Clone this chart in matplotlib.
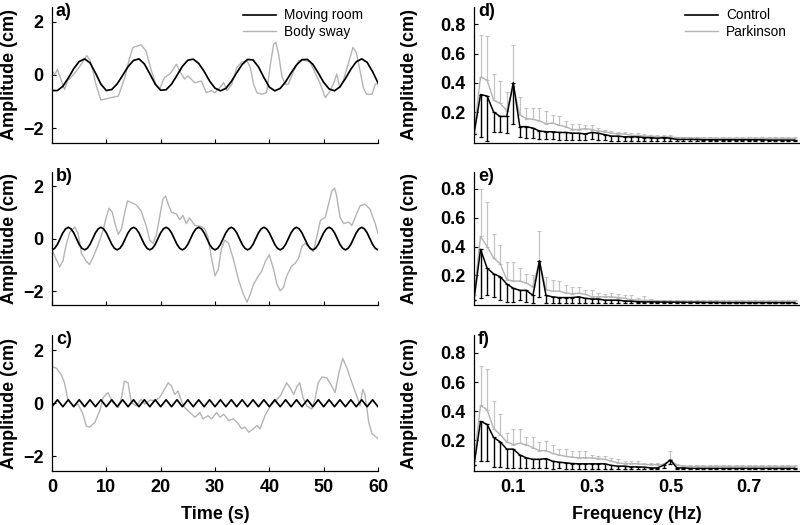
"""
Moving room vs body sway (time domain) and amplitude spectra (Control vs Parkinson).
"""
import numpy as np
import matplotlib
matplotlib.use('Agg')
import matplotlib.pyplot as plt
from matplotlib.lines import Line2D

plt.rcParams['font.family'] = ['Liberation Sans', 'DejaVu Sans']

GRAY = '#b4b4b4'
GRAY_BAR = '#c4c4c4'

# ---------------- time domain: moving room (black) ----------------
time_a = np.arange(0, 61, 1.0)
room_a = [-0.59, -0.59, -0.43, -0.12, 0.23, 0.50, 0.60, 0.45, 0.07, -0.35,
          -0.59, -0.55, -0.34, -0.02, 0.31, 0.54, 0.60, 0.41, 0.04, -0.35,
          -0.58, -0.56, -0.35, -0.02, 0.32, 0.55, 0.59, 0.43, 0.13, -0.23,
          -0.50, -0.60, -0.51, -0.25, 0.08, 0.39, 0.58, 0.56, 0.30, -0.10,
          -0.46, -0.60, -0.51, -0.26, 0.07, 0.37, 0.57, 0.58, 0.40, 0.07,
          -0.28, -0.53, -0.60, -0.45, -0.14, 0.21, 0.49, 0.60, 0.47, 0.12,
          -0.30]

time_b = np.arange(0, 60.5, 0.5)
room_b = [-0.43, -0.37, -0.22, 0, 0.22, 0.37, 0.43, 0.37, 0.22, 0, -0.22, -0.37,
          -0.43, -0.37, -0.22, 0, 0.22, 0.37, 0.43, 0.37, 0.22, 0, -0.22, -0.37,
          -0.43, -0.37, -0.22, 0, 0.22, 0.37, 0.43, 0.37, 0.22, 0, -0.22, -0.37,
          -0.43, -0.37, -0.22, 0, 0.22, 0.37, 0.43, 0.37, 0.22, 0, -0.22, -0.37,
          -0.43, -0.37, -0.22, 0, 0.22, 0.37, 0.43, 0.37, 0.22, 0, -0.22, -0.37,
          -0.43, -0.37, -0.22, 0, 0.22, 0.37, 0.43, 0.37, 0.22, 0, -0.22, -0.37,
          -0.43, -0.37, -0.22, 0, 0.22, 0.37, 0.43, 0.37, 0.22, 0, -0.22, -0.37,
          -0.43, -0.37, -0.22, 0, 0.22, 0.37, 0.43, 0.37, 0.22, 0, -0.22, -0.37,
          -0.43, -0.37, -0.22, 0, 0.22, 0.37, 0.43, 0.37, 0.22, 0, -0.22, -0.37,
          -0.43, -0.37, -0.22, 0, 0.22, 0.37, 0.43, 0.37, 0.22, 0, -0.22, -0.37,
          -0.43]

time_c = np.arange(0, 60.5, 0.5)
room_c = [-0.13, 0, 0.13, 0, -0.13, 0, 0.13, 0, -0.13, 0, 0.13, 0,
          -0.13, 0, 0.13, 0, -0.13, 0, 0.13, 0, -0.13, 0, 0.13, 0,
          -0.13, 0, 0.13, 0, -0.13, 0, 0.13, 0, -0.13, 0, 0.13, 0,
          -0.13, 0, 0.13, 0, -0.13, 0, 0.13, 0, -0.13, 0, 0.13, 0,
          -0.13, 0, 0.13, 0, -0.13, 0, 0.13, 0, -0.13, 0, 0.13, 0,
          -0.13, 0, 0.13, 0, -0.13, 0, 0.13, 0, -0.13, 0, 0.13, 0,
          -0.13, 0, 0.13, 0, -0.13, 0, 0.13, 0, -0.13, 0, 0.13, 0,
          -0.13, 0, 0.13, 0, -0.13, 0, 0.13, 0, -0.13, 0, 0.13, 0,
          -0.13, 0, 0.13, 0, -0.13, 0, 0.13, 0, -0.13, 0, 0.13, 0,
          -0.13, 0, 0.13, 0, -0.13, 0, 0.13, 0, -0.13, 0, 0.13, 0,
          -0.13]

# ---------------- time domain: body sway (gray) ----------------
sway_a_t = [0, 0.5, 1.0, 1.6, 2.3, 2.9, 3.5, 4.5, 5.4, 6.4,
            7.0, 7.5, 8.0, 9.0, 10.0, 11.0, 12.2, 13.4, 14.3, 14.9,
            16.4, 17.3, 18.3, 19.2, 19.8, 20.7, 21.7, 22.9, 23.5, 24.4,
            25.0, 26.3, 27.5, 28.4, 29.3, 30.0, 30.9, 31.6, 32.2, 33.1,
            34.0, 34.9, 35.9, 36.5, 37.1, 37.7, 38.6, 39.5, 40.2, 40.8,
            41.2, 41.7, 42.3, 42.9, 43.5, 44.5, 45.4, 46.6, 47.5, 48.4,
            49.4, 50.3, 51.2, 51.9, 52.4, 53.0, 53.6, 54.5, 55.4, 56.0,
            56.7, 57.3, 57.9, 58.9, 59.5, 60.0]
sway_a = [0.15, 0.0, 0.2, -0.15, -0.55, -0.2, -0.1, 0.15, 0.4, 0.72,
          0.55, 0.2, -0.3, -0.95, -0.9, -0.85, -0.8, -0.1, 0.65, 1.03,
          1.13, 0.9, 0.15, -0.41, -0.54, -0.1, 0.03, 0.4, 0.15, -0.16,
          -0.04, -0.3, -0.23, -0.67, -0.6, -0.67, -0.48, -0.29, -0.6, -0.35,
          0.28, 0.47, 0.53, 0.28, -0.35, -0.67, -0.73, -0.67, 0.4, 1.16,
          1.22, 0.78, -0.04, -0.35, -0.35, 0.15, 0.53, 0.55, 0.47, 0.09,
          -0.35, -0.86, -0.6, -0.29, 0.03, -0.48, -0.23, 0.4, 1.03, 0.84,
          0.15, -0.48, -0.73, -0.73, -0.35, -0.35]

sway_b_t = [0, 0.8, 1.4, 2.0, 2.6, 3.3, 4.2, 4.8, 5.4, 6.3,
            6.9, 7.5, 8.5, 9.4, 10.0, 10.5, 11.1, 11.6, 12.2, 12.8,
            13.4, 13.9, 14.6, 15.5, 16.4, 17.4, 18.0, 18.6, 19.2, 19.8,
            20.4, 20.9, 21.4, 22.0, 22.9, 23.5, 24.1, 24.7, 25.3, 26.3,
            27.2, 28.1, 28.7, 29.3, 30.0, 30.6, 31.2, 31.8, 32.5, 33.4,
            34.3, 35.2, 35.9, 36.5, 37.1, 38.0, 38.6, 39.3, 40.0, 40.8,
            41.4, 42.0, 42.6, 43.2, 44.1, 44.8, 45.4, 46.0, 46.6, 47.5,
            48.1, 48.8, 49.4, 50.3, 50.9, 51.5, 52.0, 52.4, 53.0, 53.7,
            54.6, 55.2, 55.8, 56.7, 57.6, 58.5, 59.5, 60.0]
sway_b = [-0.43, -0.8, -1.08, -0.86, -0.24, 0.25, 0.44, 0.19, -0.55, -0.86,
          -0.99, -0.74, -0.24, 0.32, 0.81, 1.16, 1.0, 0.57, 0.16, 0.38,
          1.0, 1.44, 1.37, 1.29, 1.06, 0.44, -0.06, -0.18, 0.13, 0.81,
          1.5, 1.62, 1.31, 1.0, 0.94, 0.72, 0.88, 0.57, 0.79, 0.5,
          0.47, 0.38, 0.07, -0.68, -1.42, -1.18, -0.37, -0.06, -0.18, -0.8,
          -1.55, -2.11, -2.42, -2.11, -1.74, -1.42, -1.24, -0.86, -0.62, -1.18,
          -1.74, -1.99, -1.86, -1.42, -1.05, -0.93, -0.74, -0.3, -0.18, -0.37,
          -0.49, 0.13, 0.69, 0.81, 1.31, 1.81, 1.93, 1.62, 0.81, 0.57,
          0.63, 0.5, 0.81, 1.25, 1.31, 1.13, 0.57, 0.19]

sway_c_t = [0, 0.8, 1.7, 2.3, 2.9, 3.9, 4.8, 5.7, 6.3, 6.9,
            7.9, 8.8, 9.4, 10.3, 11.2, 12.2, 12.8, 13.3, 14.0, 14.6,
            15.5, 16.4, 17.1, 18.0, 19.0, 19.8, 20.7, 21.4, 22.0, 22.6,
            23.2, 23.8, 24.4, 25.0, 25.7, 26.3, 27.2, 27.8, 28.7, 29.4,
            30.3, 30.9, 31.6, 32.5, 33.4, 34.3, 34.9, 35.5, 36.2, 37.1,
            37.7, 38.3, 39.2, 40.2, 41.1, 42.0, 42.6, 43.2, 43.8, 44.5,
            45.1, 45.6, 46.2, 46.9, 47.8, 48.4, 49.0, 49.7, 50.6, 51.5,
            52.1, 52.8, 53.5, 54.3, 55.2, 56.1, 56.7, 57.2, 57.6, 58.3,
            58.9, 60.0]
sway_c = [1.38, 1.32, 1.07, 0.77, 0.15, -0.1, -0.04, -0.41, -0.86, -0.9,
          -0.72, -0.28, 0.21, 0.4, 0.02, -0.16, 0.21, 0.83, 0.77, 0.02,
          -0.1, 0.15, -0.04, 0.12, 0.09, 0.21, 0.52, 0.77, 0.64, 0.33,
          0.46, 0.09, -0.16, -0.28, -0.41, -0.53, -0.35, -0.59, -0.47, -0.59,
          -0.35, -0.53, -0.41, -0.65, -0.59, -0.78, -0.96, -0.9, -1.09, -0.96,
          -0.84, -0.96, -0.47, -0.1, 0.09, 0.27, 0.52, 0.77, 0.58, 0.33,
          0.64, 0.77, 0.21, -0.1, -0.22, 0.15, 0.77, 0.99, 0.95, 0.64,
          0.4, 1.14, 1.69, 1.32, 0.77, 0.27, -0.1, 0.52, 0.33, -0.72,
          -1.15, -1.33]

# ---------------- frequency domain (df = 1/60 Hz) ----------------
freq = np.arange(50) / 60.0

d_ctrl = [0.05, 0.32, 0.31, 0.20, 0.17, 0.17, 0.40, 0.10, 0.10, 0.09,
          0.07, 0.065, 0.065, 0.06, 0.06, 0.055, 0.055, 0.05, 0.06, 0.055,
          0.045, 0.035, 0.035, 0.03, 0.03, 0.03, 0.025, 0.025, 0.02, 0.025,
          0.02, 0.012, 0.012, 0.012, 0.012, 0.01, 0.01, 0.01, 0.01, 0.01,
          0.01, 0.01, 0.01, 0.01, 0.01, 0.008, 0.008, 0.008, 0.008, 0.008]
d_ctrl_sd = [0.0, 0.29, 0.31, 0.135, 0.11, 0.115, 0.28, 0.07, 0.075, 0.07,
             0.055, 0.05, 0.05, 0.05, 0.05, 0.045, 0.045, 0.04, 0.045, 0.045,
             0.035, 0.03, 0.03, 0.025, 0.025, 0.025, 0.02, 0.02, 0.015, 0.02,
             0.015, 0.008, 0.008, 0.008, 0.008, 0.008, 0.008, 0.008, 0.008, 0.008,
             0.008, 0.008, 0.008, 0.008, 0.008, 0.006, 0.006, 0.006, 0.006, 0.006]
d_park = [0.06, 0.44, 0.42, 0.28, 0.26, 0.21, 0.38, 0.18, 0.155, 0.15,
          0.14, 0.12, 0.125, 0.11, 0.10, 0.08, 0.08, 0.087, 0.08, 0.07,
          0.065, 0.055, 0.05, 0.05, 0.04, 0.04, 0.035, 0.035, 0.03, 0.03,
          0.03, 0.025, 0.025, 0.023, 0.023, 0.022, 0.022, 0.02, 0.02, 0.02,
          0.02, 0.02, 0.02, 0.02, 0.02, 0.02, 0.02, 0.02, 0.02, 0.02]
d_park_sd = [0.0, 0.29, 0.30, 0.18, 0.15, 0.13, 0.28, 0.12, 0.075, 0.08,
             0.09, 0.09, 0.055, 0.06, 0.04, 0.04, 0.04, 0.023, 0.03, 0.02,
             0.015, 0.015, 0.015, 0.015, 0.017, 0.015, 0.015, 0.01, 0.015, 0.01,
             0.01, 0.006, 0.006, 0.006, 0.006, 0.006, 0.006, 0.006, 0.006, 0.006,
             0.006, 0.006, 0.006, 0.006, 0.006, 0.006, 0.006, 0.006, 0.006, 0.006]

e_ctrl = [0.03, 0.38, 0.25, 0.21, 0.19, 0.14, 0.11, 0.095, 0.095, 0.06,
          0.30, 0.06, 0.05, 0.045, 0.045, 0.045, 0.05, 0.04, 0.035, 0.035,
          0.027, 0.027, 0.027, 0.022, 0.02, 0.016, 0.015, 0.015, 0.014, 0.014,
          0.013, 0.013, 0.012, 0.012, 0.012, 0.011, 0.011, 0.011, 0.01, 0.01,
          0.01, 0.01, 0.01, 0.01, 0.01, 0.01, 0.01, 0.01, 0.01, 0.01]
e_ctrl_sd = [0.0, 0.34, 0.19, 0.16, 0.16, 0.125, 0.095, 0.07, 0.08, 0.055,
             0.25, 0.05, 0.04, 0.035, 0.035, 0.035, 0.04, 0.03, 0.025, 0.025,
             0.02, 0.02, 0.02, 0.016, 0.015, 0.011, 0.01, 0.01, 0.009, 0.009,
             0.008, 0.008, 0.007, 0.007, 0.007, 0.006, 0.006, 0.006, 0.005, 0.005,
             0.005, 0.005, 0.005, 0.005, 0.005, 0.005, 0.005, 0.005, 0.005, 0.005]
e_park = [0.06, 0.47, 0.40, 0.32, 0.28, 0.17, 0.16, 0.16, 0.145, 0.12,
          0.30, 0.10, 0.09, 0.09, 0.077, 0.072, 0.075, 0.068, 0.05, 0.05,
          0.05, 0.05, 0.045, 0.04, 0.03, 0.027, 0.025, 0.025, 0.022, 0.022,
          0.02, 0.02, 0.02, 0.02, 0.02, 0.02, 0.02, 0.02, 0.02, 0.02,
          0.02, 0.02, 0.02, 0.02, 0.02, 0.02, 0.02, 0.02, 0.02, 0.02]
e_park_sd = [0.0, 0.33, 0.31, 0.17, 0.13, 0.12, 0.13, 0.09, 0.065, 0.08,
             0.21, 0.09, 0.08, 0.07, 0.053, 0.048, 0.045, 0.027, 0.045, 0.027,
             0.022, 0.027, 0.025, 0.02, 0.03, 0.018, 0.029, 0.013, 0.008, 0.008,
             0.008, 0.008, 0.008, 0.008, 0.008, 0.008, 0.008, 0.008, 0.008, 0.008,
             0.008, 0.008, 0.008, 0.008, 0.008, 0.008, 0.008, 0.008, 0.008, 0.008]

f_ctrl = [0.03, 0.33, 0.31, 0.22, 0.19, 0.14, 0.14, 0.10, 0.08, 0.07,
          0.07, 0.075, 0.057, 0.05, 0.046, 0.041, 0.039, 0.039, 0.039, 0.039,
          0.039, 0.028, 0.023, 0.023, 0.018, 0.018, 0.016, 0.011, 0.011, 0.03,
          0.065, 0.011, 0.011, 0.008, 0.008, 0.008, 0.008, 0.008, 0.008, 0.008,
          0.008, 0.008, 0.008, 0.008, 0.008, 0.008, 0.008, 0.008, 0.008, 0.008]
f_ctrl_sd = [0.0, 0.27, 0.25, 0.20, 0.17, 0.13, 0.13, 0.09, 0.07, 0.06,
             0.06, 0.065, 0.05, 0.04, 0.04, 0.035, 0.033, 0.033, 0.033, 0.033,
             0.033, 0.022, 0.018, 0.018, 0.013, 0.013, 0.012, 0.008, 0.008, 0.02,
             0.03, 0.006, 0.006, 0.006, 0.006, 0.006, 0.006, 0.006, 0.006, 0.006,
             0.006, 0.006, 0.006, 0.006, 0.006, 0.006, 0.006, 0.006, 0.006, 0.006]
f_park = [0.06, 0.44, 0.41, 0.28, 0.24, 0.19, 0.17, 0.18, 0.17, 0.15,
          0.13, 0.13, 0.11, 0.10, 0.09, 0.085, 0.08, 0.08, 0.08, 0.074,
          0.07, 0.057, 0.046, 0.04, 0.04, 0.04, 0.035, 0.033, 0.033, 0.035,
          0.07, 0.03, 0.022, 0.022, 0.022, 0.022, 0.022, 0.022, 0.022, 0.022,
          0.022, 0.022, 0.022, 0.022, 0.022, 0.022, 0.022, 0.022, 0.022, 0.022]
f_park_sd = [0.0, 0.27, 0.28, 0.19, 0.14, 0.06, 0.11, 0.10, 0.05, 0.07,
             0.06, 0.065, 0.06, 0.04, 0.05, 0.045, 0.05, 0.05, 0.02, 0.016,
             0.02, 0.023, 0.024, 0.017, 0.017, 0.017, 0.011, 0.013, 0.01, 0.01,
             0.06, 0.006, 0.006, 0.006, 0.006, 0.006, 0.006, 0.006, 0.006, 0.006,
             0.006, 0.006, 0.006, 0.006, 0.006, 0.006, 0.006, 0.006, 0.006, 0.006]

time_ticks = [0, 10, 20, 30, 40, 50, 60]
amp_ticks = [-2, 0, 2]
freq_ticks = [0.1, 0.3, 0.5, 0.7]
spec_ticks = [0.2, 0.4, 0.6, 0.8]

font = {'family': ['Liberation Sans', 'DejaVu Sans'], 'weight': 'bold', 'size': 13}

fig = plt.figure(figsize=(8, 5.25), dpi=100)

rows = [(0.7282, 0.2585), (0.4181, 0.2549), (0.1029, 0.2581)]
left_axes = [fig.add_axes([0.065, b, 0.4075, h]) for b, h in rows]
right_axes = [fig.add_axes([0.5925, b, 0.4075, h]) for b, h in rows]


def style_axis(ax, letter):
    ax.spines['top'].set_visible(False)
    ax.spines['right'].set_visible(False)
    for s in ('left', 'bottom'):
        ax.spines[s].set_linewidth(0.9)
    ax.tick_params(direction='in', length=3, width=0.8, labelsize=13, pad=6)
    for lab in ax.get_xticklabels() + ax.get_yticklabels():
        lab.set_fontweight('bold')
    ax.set_ylabel('Amplitude (cm)', **font)
    ax.text(0.012, 1.03, letter, transform=ax.transAxes, ha='left', va='top', **font)


# ---- left column: time series ----
time_data = [(time_a, room_a, sway_a_t, sway_a, 'a)'),
             (time_b, room_b, sway_b_t, sway_b, 'b)'),
             (time_c, room_c, sway_c_t, sway_c, 'c)')]
for i, (ax, (tr, room, ts, sway, letter)) in enumerate(zip(left_axes, time_data)):
    ax.plot(ts, sway, color=GRAY, lw=1.0, zorder=2)
    ax.plot(tr, room, color='black', lw=1.25, zorder=3)
    ax.set_xlim(0, 60)
    ax.set_ylim(-2.55, 2.55)
    ax.set_xticks(time_ticks)
    ax.set_yticks(amp_ticks)
    if i < 2:
        ax.set_xticklabels([])
    else:
        ax.set_xlabel('Time (s)', labelpad=7, **font)
    style_axis(ax, letter)
    ax.yaxis.set_label_coords(-0.104, 0.5)

left_axes[0].legend([Line2D([], [], color='black', lw=1.2), Line2D([], [], color=GRAY, lw=1.0)],
                    ['Moving room', 'Body sway'], loc='upper right', bbox_to_anchor=(0.955, 0.99),
                    frameon=False, fontsize=9.8, handlelength=2.4, labelspacing=0.2,
                    borderpad=0, borderaxespad=0, handletextpad=0.6)

# ---- right column: spectra ----
spec_data = [(d_ctrl, d_ctrl_sd, d_park, d_park_sd, 'd)'),
             (e_ctrl, e_ctrl_sd, e_park, e_park_sd, 'e)'),
             (f_ctrl, f_ctrl_sd, f_park, f_park_sd, 'f)')]
zeros = np.zeros(len(freq))
for i, (ax, (ctrl, ctrl_sd, park, park_sd, letter)) in enumerate(zip(right_axes, spec_data)):
    ax.errorbar(freq, park, yerr=[zeros, park_sd], color=GRAY, lw=1.0,
                ecolor=GRAY_BAR, elinewidth=0.9, capsize=1.2, capthick=0.8, zorder=2)
    ax.errorbar(freq, ctrl, yerr=[ctrl_sd, zeros], color='black', lw=1.1,
                ecolor='black', elinewidth=1.0, capsize=1.2, capthick=0.9, zorder=3)
    ax.set_xlim(0, 0.83)
    ax.set_ylim(-0.01, 0.92)
    ax.set_xticks(freq_ticks)
    ax.set_yticks(spec_ticks)
    if i < 2:
        ax.set_xticklabels([])
    else:
        ax.set_xlabel('Frequency (Hz)', labelpad=7, **font)
    style_axis(ax, letter)
    ax.tick_params(axis='x', length=0)
    ax.yaxis.set_label_coords(-0.172, 0.5)

right_axes[0].legend([Line2D([], [], color='black', lw=1.2), Line2D([], [], color=GRAY, lw=1.0)],
                     ['Control', 'Parkinson'], loc='upper right', bbox_to_anchor=(0.96, 0.99),
                     frameon=False, fontsize=9.8, handlelength=2.4, labelspacing=0.2,
                     borderpad=0, borderaxespad=0, handletextpad=0.6)

fig.savefig('out.png', dpi=100)
